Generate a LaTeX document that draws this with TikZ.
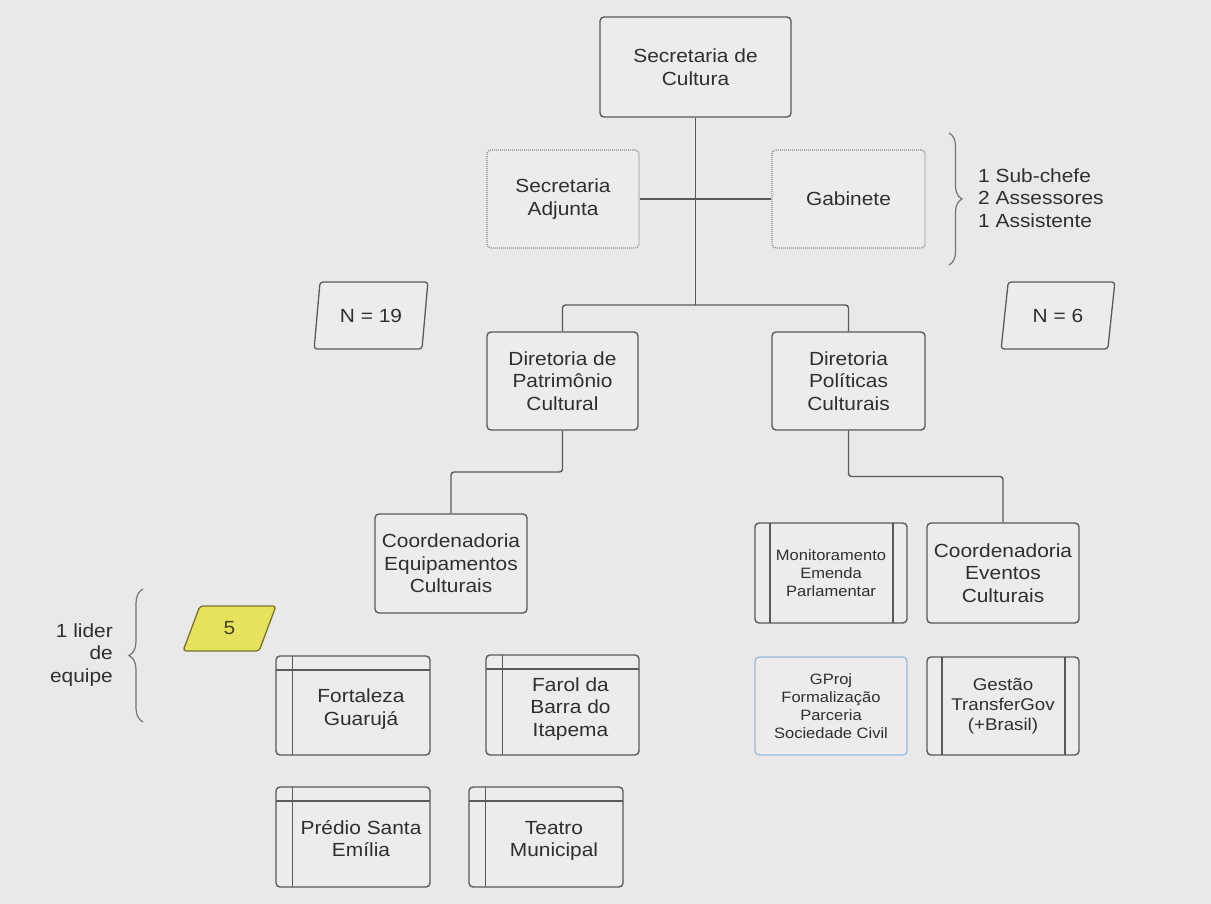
\documentclass[tikz,border=0pt]{standalone}
\usepackage{fontspec}
\setmainfont{Liberation Sans}[FakeStretch=1.1]
\usetikzlibrary{shapes.geometric,decorations.pathreplacing,calc}

\definecolor{bg}{HTML}{E9E9E9}
\definecolor{boxc}{HTML}{ECECEC}
\definecolor{linec}{HTML}{5A5A5A}
\definecolor{textc}{HTML}{2F2F2F}
\definecolor{dotc}{HTML}{8F8F8F}
\definecolor{bluec}{HTML}{9DB8D9}
\definecolor{yel}{HTML}{E6E25C}
\definecolor{olivec}{HTML}{77732F}

\newcommand\fbig{\fontsize{19}{22.5}\selectfont}
\newcommand\fmid{\fontsize{17}{20}\selectfont}
\newcommand\fsmall{\fontsize{15}{18}\selectfont}
% text set to the right of / below the inner rules of a storage box
\newcommand\inset[1]{\raisebox{-4pt}[\height][\depth]{\hspace*{16pt}\begin{tabular}{@{}c@{}}#1\end{tabular}}}

\begin{document}
\begin{tikzpicture}[x=1pt,y=-1pt,
  sz/.style 2 args={minimum width=#1pt, minimum height=#2pt},
  box/.style={draw=linec, fill=boxc, line width=1.4pt, rounded corners=4pt,
    inner sep=0pt, align=center, text=textc, font=\fbig},
  dotbox/.style={box, draw=dotc, line width=1.3pt, dash pattern=on 1pt off 1pt},
  sidebox/.style={box, path picture={
      \draw[linec, line width=1.2pt]
        ([xshift=15pt]path picture bounding box.north west) --
        ([xshift=15pt]path picture bounding box.south west);
      \draw[linec, line width=1.2pt]
        ([xshift=-14pt]path picture bounding box.north east) --
        ([xshift=-14pt]path picture bounding box.south east);}},
  cornbox/.style={box, path picture={
      \draw[linec, line width=1.2pt]
        ([xshift=16.5pt]path picture bounding box.north west) --
        ([xshift=16.5pt]path picture bounding box.south west);
      \draw[linec, line width=1.2pt]
        ([yshift=-14pt]path picture bounding box.north west) --
        ([yshift=-14pt]path picture bounding box.north east);}},
  para/.style={trapezium, trapezium left angle=75, trapezium right angle=105,
    trapezium stretches=true, draw=linec, fill=boxc, line width=1.3pt,
    rounded corners=3pt, inner sep=0pt, text=textc, font=\fbig},
  conn/.style={draw=linec, line width=1.4pt, rounded corners=3pt},
  curly/.style={draw=linec!85, line width=1.2pt, decorate},
  note/.style={text=textc, font=\fbig, inner sep=0pt}
]
\useasboundingbox (0,0) rectangle (1211,904);
\fill[bg] (0,0) rectangle (1211,904);

% top level
\node[box, sz={191}{100}] (sc) at (695.5,67) {Secretaria de\\Cultura};
\node[dotbox, sz={152}{98}] (sa) at (563,199) {Secretaria\\Adjunta};
\node[dotbox, sz={153}{98}] (gb) at (848.5,199) {Gabinete};

% directorates
\node[box, sz={151}{98}] (dp) at (562.5,381) {Diretoria de\\Patrimônio\\Cultural};
\node[box, sz={153}{98}] (pc) at (848.5,381) {Diretoria\\Políticas\\Culturais};

% staff counts
\node[para, sz={114}{67}] (n19) at (371,315.5) {N = 19};
\node[para, sz={114}{67}] (n6) at (1058,315.5) {N = 6};

% coordinations
\node[box, sz={152}{99}] (ce) at (451,563.5) {Coordenadoria\\Equipamentos\\Culturais};
\node[sidebox, sz={152}{100}, font=\fsmall] (me) at (831,573) {Monitoramento\\Emenda\\Parlamentar};
\node[box, sz={152}{100}] (cev) at (1003,573) {Coordenadoria\\Eventos\\Culturais};
\node[box, draw=bluec, line width=1.2pt, sz={152}{98}, font=\fsmall] (gp) at (831,706)
  {GProj\\Formalização\\Parceria\\Sociedade Civil};
\node[sidebox, sz={152}{98}, font=\fmid] (tg) at (1003,706) {Gestão\\TransferGov\\(+Brasil)};

% cultural facilities
\node[para, fill=yel, draw=olivec, trapezium left angle=76, trapezium right angle=104,
  sz={93}{45}, text=olivec!60!black] (y5) at (229.5,628.5) {5};
\node[cornbox, sz={154}{99}] (fg) at (353,705.5) {\inset{Fortaleza\\Guarujá}};
\node[cornbox, sz={153}{100}] (fb) at (562.5,705) {\inset{Farol da\\Barra do\\Itapema}};
\node[cornbox, sz={154}{100}] (ps) at (353,837) {\inset{Prédio Santa\\Emília}};
\node[cornbox, sz={154}{100}] (tm) at (546,837) {\inset{Teatro\\Municipal}};

% connectors
\coordinate (j1) at (695.5,305);
\draw[conn] (sc.south) -- (j1);
\draw[conn] (sa.east) -- (gb.west);
\draw[conn] (dp.north) |- (j1) -| (pc.north);
\draw[conn] (dp.south) |- ($(dp.south)!.5!(ce.north)$) -| (ce.north);
\draw[conn] (pc.south) |- ($(pc.south)!.5!(cev.north)$) -| (cev.north);

% braces and their notes
\coordinate (gbt) at (949,133);
\coordinate (gbb) at (949,265);
\draw[curly, decoration={brace, amplitude=13pt}] (gbt) -- (gbb);
\node[note, anchor=west, align=left] (staff) at (978,198)
  {1 Sub-chefe\\2 Assessores\\1 Assistente};

\coordinate (llt) at (143,589);
\coordinate (llb) at (143,722);
\draw[curly, decoration={brace, amplitude=14pt}] (llb) -- (llt);
\node[note, anchor=east, align=right] (lider) at (113,655) {1 lider\\de\\equipe};
\end{tikzpicture}
\end{document}
